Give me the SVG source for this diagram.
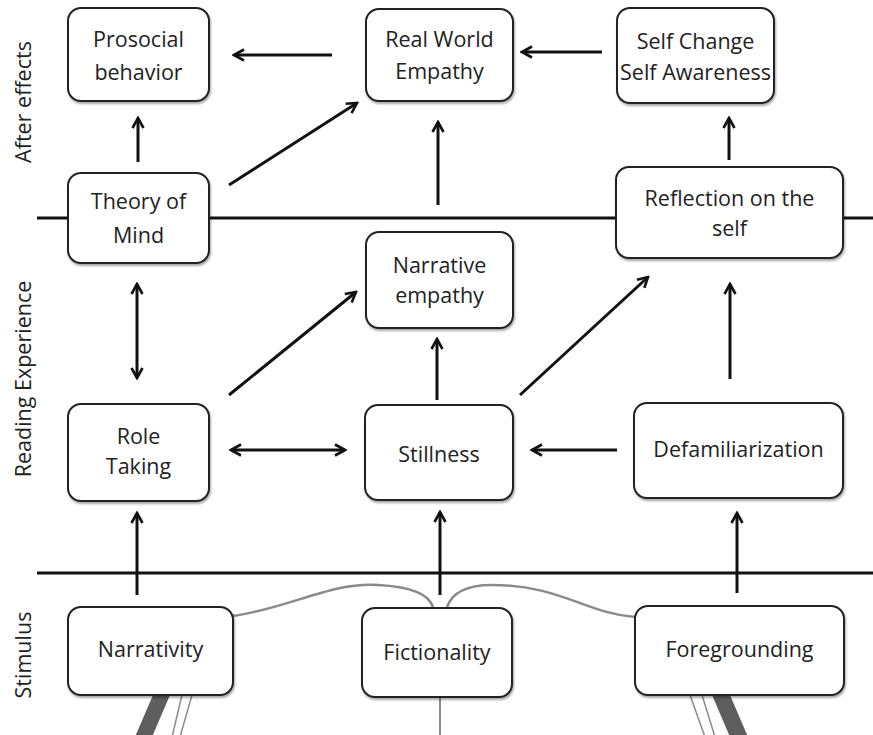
<svg xmlns="http://www.w3.org/2000/svg" width="873" height="735" viewBox="0 0 873 735">
<style>
.box{fill:#fff;stroke:#222;stroke-width:2;filter:url(#sh)}
.t{font-family:"Open Sans","Liberation Sans",sans-serif;font-size:21.5px;fill:#222;text-anchor:middle}
.side{font-family:"Open Sans","Liberation Sans",sans-serif;font-size:21.5px;fill:#222;text-anchor:middle}
.ar{stroke:#111;stroke-width:3;fill:none;marker-end:url(#ah)}
.dbl{stroke:#111;stroke-width:3;fill:none;marker-end:url(#ah);marker-start:url(#ah)}
.rule{stroke:#111;stroke-width:3}
.grey{stroke:#8a8a8a;stroke-width:2.5;fill:none}
</style>
<defs>
<filter id="sh" x="-10%" y="-10%" width="125%" height="130%">
<feDropShadow dx="1" dy="2" stdDeviation="1.2" flood-color="#000" flood-opacity="0.35"/>
</filter>
<marker id="ah" viewBox="0 0 14 14" refX="12" refY="7" markerWidth="14" markerHeight="14" markerUnits="userSpaceOnUse" orient="auto-start-reverse">
<path d="M2,1.5 L12,7 L2,12.5" stroke="#111" stroke-width="2.6" fill="none"/>
</marker>
</defs>
<rect width="873" height="735" fill="#fff"/>

<g id="side-labels">
<text class="side" transform="translate(31,102) rotate(-90)">After effects</text>
<text class="side" transform="translate(31,379) rotate(-90)">Reading Experience</text>
<text class="side" transform="translate(31,655) rotate(-90)">Stimulus</text>
</g>

<g id="decor">
<line class="rule" x1="37" y1="218" x2="873" y2="218"/>
<line class="rule" x1="37" y1="573" x2="873" y2="573"/>
<path class="grey" d="M233,616 C290,608 330,582 378,585 C418,587 430,598 433,607"/>
<path class="grey" d="M447,607 C452,593 466,585 492,585 C560,585 585,613 635,617"/>
<line x1="440" y1="697" x2="440" y2="735" stroke="#8a8a8a" stroke-width="2"/>
<polygon points="153,695 170,695 152,737 135,737" fill="#5e5e5e"/>
<polygon points="182,695 192,695 180,737 172,737" fill="#fff" stroke="#8a8a8a" stroke-width="1.5"/>
<polygon points="712,695 730,695 748,737 730,737" fill="#5e5e5e"/>
<polygon points="690,695 702,695 715,737 705,737" fill="#fff" stroke="#8a8a8a" stroke-width="1.5"/>
</g>

<g id="connectors">
<line class="ar" x1="138" y1="162" x2="138" y2="118"/>
<line class="ar" x1="332" y1="55" x2="234" y2="55"/>
<line class="ar" x1="602" y1="52" x2="522" y2="52"/>
<line class="ar" x1="229" y1="185" x2="357" y2="103"/>
<line class="ar" x1="438" y1="205" x2="438" y2="122"/>
<line class="ar" x1="729" y1="160" x2="729" y2="118"/>
<line class="dbl" x1="137" y1="284" x2="137" y2="378"/>
<line class="ar" x1="229" y1="395" x2="356" y2="292"/>
<line class="ar" x1="437" y1="400" x2="437" y2="339"/>
<line class="ar" x1="520" y1="395" x2="648" y2="277"/>
<line class="ar" x1="730" y1="379" x2="730" y2="284"/>
<line class="dbl" x1="231" y1="450" x2="345" y2="450"/>
<line class="ar" x1="617" y1="450" x2="532" y2="450"/>
<line class="ar" x1="137" y1="595" x2="137" y2="513"/>
<line class="ar" x1="440" y1="595" x2="440" y2="512"/>
<line class="ar" x1="737" y1="593" x2="737" y2="513"/>
</g>

<g id="prosocial">
<rect class="box" x="68" y="8" width="141" height="93" rx="13"/>
<text class="t" x="138.5" y="47">Prosocial</text>
<text class="t" x="138.5" y="80">behavior</text>
</g>
<g id="real-world-empathy">
<rect class="box" x="366" y="9" width="147" height="92" rx="13"/>
<text class="t" x="439.5" y="47">Real World</text>
<text class="t" x="439.5" y="79">Empathy</text>
</g>
<g id="self-change">
<rect class="box" x="617" y="8" width="157" height="95" rx="13"/>
<text class="t" x="695.5" y="49">Self Change</text>
<text class="t" x="695.5" y="80">Self Awareness</text>
</g>
<g id="theory-of-mind">
<rect class="box" x="68" y="173" width="141" height="90" rx="13"/>
<text class="t" x="138.5" y="209">Theory of</text>
<text class="t" x="138.5" y="243">Mind</text>
</g>
<g id="reflection">
<rect class="box" x="616" y="167" width="227" height="91" rx="13"/>
<text class="t" x="729.5" y="206">Reflection on the</text>
<text class="t" x="729.5" y="236">self</text>
</g>
<g id="narrative-empathy">
<rect class="box" x="366" y="232" width="147" height="96" rx="13"/>
<text class="t" x="439.5" y="273">Narrative</text>
<text class="t" x="439.5" y="303">empathy</text>
</g>
<g id="role-taking">
<rect class="box" x="68" y="404" width="141" height="97" rx="13"/>
<text class="t" x="138.5" y="444">Role</text>
<text class="t" x="138.5" y="474">Taking</text>
</g>
<g id="stillness">
<rect class="box" x="365" y="405" width="148" height="95" rx="13"/>
<text class="t" x="439" y="462">Stillness</text>
</g>
<g id="defamiliarization">
<rect class="box" x="634" y="403" width="209" height="95" rx="13"/>
<text class="t" x="738.5" y="457">Defamiliarization</text>
</g>
<g id="narrativity">
<rect class="box" x="68" y="607" width="165" height="88" rx="13"/>
<text class="t" x="150.5" y="657">Narrativity</text>
</g>
<g id="fictionality">
<rect class="box" x="362" y="608" width="150" height="89" rx="13"/>
<text class="t" x="437" y="660">Fictionality</text>
</g>
<g id="foregrounding">
<rect class="box" x="635" y="606" width="209" height="89" rx="13"/>
<text class="t" x="739.5" y="657">Foregrounding</text>
</g>
</svg>
